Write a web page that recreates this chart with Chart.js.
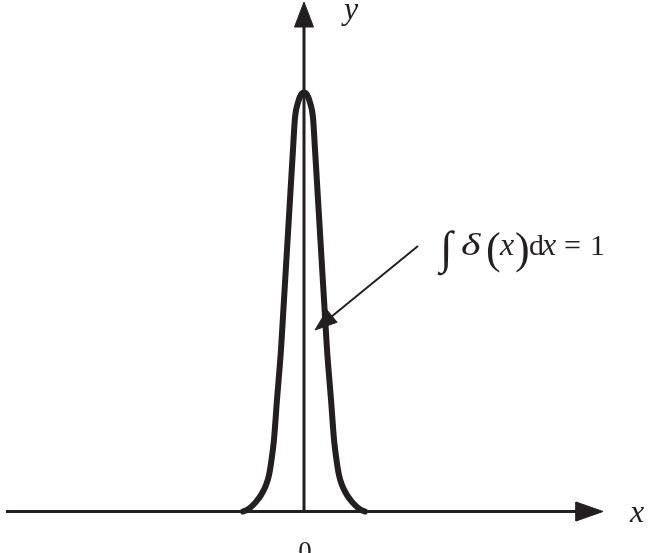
<!DOCTYPE html>
<html>
<head>
<meta charset="utf-8">
<script src="https://cdn.jsdelivr.net/npm/chart.js@4.4.1/dist/chart.umd.min.js"></script>
<style>
html,body{margin:0;padding:0;background:#fff;}
#wrap{width:648px;height:553px;}
</style>
</head>
<body>
<div id="wrap"><canvas id="c" width="648" height="553"></canvas></div>
<script>
// Bell-shaped pulse approximating delta(x): horizontal offset from the y-axis and height (peak = 1)
const curveX = [-61,-57,-53,-48,-43,-38,-35,-32.5,-30,-27,-23,-20,-17,-14,-11,-9,-6,-3,0,3,6,9,11,14,17,20,23,27,30,32.5,35,38,43,48,53,57,61];
const curveY = [0,0.004,0.011,0.023,0.039,0.063,0.087,0.123,0.172,0.267,0.387,0.506,0.625,0.745,0.864,0.940,0.976,0.995,1.0,0.995,0.976,0.940,0.864,0.745,0.625,0.506,0.387,0.267,0.172,0.123,0.087,0.063,0.039,0.023,0.011,0.004,0];
const axisLabels = ['x','y','0'];
const annotationText = ['∫','δ','(','x',')','d','x','=','1'];

// scale setup: x in horizontal units (1 unit = 1px), y where 1 unit = 419px
const PX = 419;
const X_MIN = -304, X_MAX = 344;
const Y_MIN = -41.5/PX, Y_MAX = 511.5/PX;
const ink = '#231f20';

const curve = curveX.map((x,i)=>({x:x, y:curveY[i]}));

// axis segments and arrows (decorations)
const xAxisLine = [{x:-298,y:0},{x:276,y:0}];
const xArrow = [{x:299,y:0},{x:272,y:9.5/PX},{x:272,y:-9.5/PX},{x:299,y:0}];
const yAxisLine = [{x:0,y:0},{x:0,y:(511.5-24)/PX}];
const yArrow = [{x:0,y:(511.5-2)/PX},{x:-9.5,y:(511.5-27)/PX},{x:9.5,y:(511.5-27)/PX},{x:0,y:(511.5-2)/PX}];

// annotation arrow: tail and tip
const tail = {x:418-304, y:(511.5-246)/PX};
const tip = {x:315-304, y:(511.5-330)/PX};
function arrowHead(tl, tp, len, half){
  const dx = (tp.x-tl.x), dy = -(tp.y-tl.y)*PX; // pixel space (y down)
  const L = Math.hypot(dx,dy); const ux=dx/L, uy=dy/L;
  const bx = tp.x - ux*len, byPx = -uy*len;
  const px = -uy, py = ux;
  return [
    {x:tp.x, y:tp.y},
    {x:bx + px*half, y:tp.y - (byPx + py*half)/PX},
    {x:bx - px*half, y:tp.y - (byPx - py*half)/PX},
    {x:tp.x, y:tp.y}
  ];
}
const annHead = arrowHead(tail, tip, 22, 8);
const annLine = [tail, {x:tip.x + (tail.x-tip.x)*0.12, y:tip.y + (tail.y-tip.y)*0.12}];

const labelPlugin = {
  id:'labels',
  afterDatasetsDraw(chart){
    const ctx = chart.ctx;
    const xs = chart.scales.x, ys = chart.scales.y;
    const X = v=>xs.getPixelForValue(v), Y = v=>ys.getPixelForValue(v);
    ctx.save();
    ctx.fillStyle = ink;
    ctx.textBaseline = 'alphabetic';
    ctx.textAlign = 'left';
    const serif = '"Liberation Serif", "DejaVu Serif", serif';
    // axis labels
    ctx.font = 'italic 32px ' + serif;
    ctx.fillText(axisLabels[0], X(326), Y(-10.5/PX));
    ctx.fillText(axisLabels[1], X(40), Y((511.5-19)/PX));
    ctx.font = '27px ' + serif;
    ctx.textAlign = 'center';
    ctx.fillText(axisLabels[2], X(1), Y(-48/PX));
    ctx.textAlign = 'left';
    // annotation, glyph by glyph
    const base = Y((511.5-255)/PX);
    const parts = [
      {t:annotationText[0], x:440, f:'46px '+serif, dy:8, sx:1},
      {t:annotationText[1], x:461, f:'italic 31px '+serif, dy:0, sx:1.35},
      {t:annotationText[2], x:486, f:'44px '+serif, dy:8, sx:1},
      {t:annotationText[3], x:500, f:'italic 32px '+serif, dy:0, sx:1},
      {t:annotationText[4], x:515, f:'44px '+serif, dy:8, sx:1},
      {t:annotationText[5], x:529, f:'30px '+serif, dy:0, sx:1},
      {t:annotationText[6], x:542, f:'italic 32px '+serif, dy:0, sx:1},
      {t:annotationText[7], x:564, f:'30px '+serif, dy:0, sx:1},
      {t:annotationText[8], x:590, f:'30px '+serif, dy:0, sx:1}
    ];
    for(const p of parts){
      ctx.save();
      ctx.font = p.f;
      ctx.translate(X(p.x-304), base + p.dy);
      ctx.scale(p.sx, 1);
      ctx.fillText(p.t, 0, 0);
      ctx.restore();
    }
    ctx.restore();
  }
};

const lineDs = (data, w, extra) => Object.assign({
  data, showLine:true, borderColor:ink, backgroundColor:ink, borderWidth:w,
  pointRadius:0, pointHoverRadius:0, fill:false
}, extra||{});

new Chart(document.getElementById('c'), {
  type:'scatter',
  data:{datasets:[
    lineDs(xAxisLine, 3),
    lineDs(yAxisLine, 3),
    lineDs(xArrow, 1, {fill:'shape'}),
    lineDs(yArrow, 1, {fill:'shape'}),
    lineDs(curve, 6, {cubicInterpolationMode:'monotone', borderCapStyle:'round', borderJoinStyle:'round'}),
    lineDs(annLine, 2),
    lineDs(annHead, 1, {fill:'shape'})
  ]},
  options:{
    responsive:false, animation:false,
    layout:{padding:0},
    plugins:{legend:{display:false}, tooltip:{enabled:false}},
    scales:{
      x:{type:'linear', min:X_MIN, max:X_MAX, display:false},
      y:{type:'linear', min:Y_MIN, max:Y_MAX, display:false}
    }
  },
  plugins:[labelPlugin]
});
</script>
</body>
</html>
